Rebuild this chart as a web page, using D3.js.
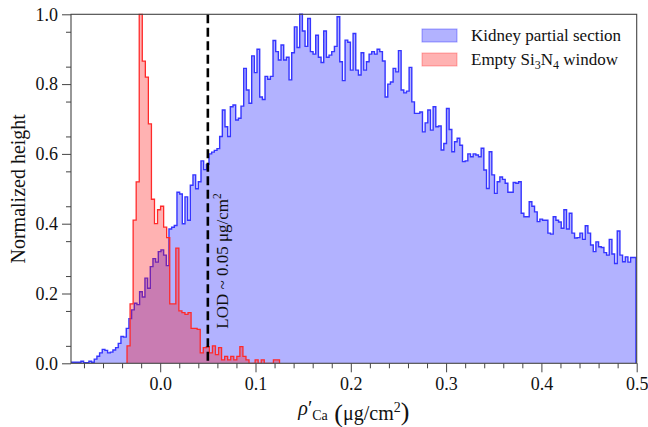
<!DOCTYPE html>
<html><head><meta charset="utf-8">
<script src="https://cdn.jsdelivr.net/npm/d3@7"></script>
<style>
body{margin:0;background:#fff}
svg{display:block}
text{font-family:"Liberation Serif","Times New Roman",serif;fill:#111}
</style>
</head><body>
<svg id="chart" width="648" height="427"></svg>
<script>
// ---- data ----
const kidneyStart = -0.1, kidneyBinWidth = 0.0028;
const kidneyValues = [
0,0,0.003,0.003,0.003,0.003,0.006,0.002,0.002,0.006,
0.003,0.012,0.02,0.03,0.04,0.037,0.03,0.032,0.038,0.045,
0.057,0.077,0.075,0.10,0.128,0.153,0.172,0.168,0.205,0.19,
0.244,0.215,0.277,0.30,0.29,0.32,0.325,0.31,0.28,0.385,
0.39,0.395,0.49,0.485,0.40,0.477,0.41,0.51,0.54,0.50,
0.52,0.58,0.555,0.57,0.60,0.605,0.61,0.615,0.65,0.726,
0.678,0.65,0.735,0.74,0.697,0.702,0.737,
0.845,0.783,0.745,0.881,0.833,0.90,0.763,0.756,0.822,0.814,
0.822,0.925,0.893,0.869,0.912,0.869,0.877,0.812,0.89,0.964,
0.905,1.0,0.952,0.908,0.988,0.893,0.886,0.94,0.877,0.862,
0.952,0.877,0.883,0.893,0.908,0.993,0.864,0.81,0.926,0.92,
0.84,0.945,0.84,0.826,0.89,0.84,0.864,0.886,0.893,0.886,
0.90,0.893,0.866,0.763,0.8,0.806,0.845,0.835,0.896,0.783,
0.775,0.78,0.848,0.749,0.716,0.716,0.72,0.663,0.689,0.726,
0.668,0.735,0.678,
0.68,0.611,0.63,0.73,0.67,0.606,0.635,0.645,0.625,0.578,
0.58,0.60,0.592,0.60,0.597,0.592,0.616,0.554,0.501,0.606,
0.54,0.487,0.52,0.534,0.527,0.516,0.49,0.49,0.518,0.516,
0.52,0.43,0.42,0.42,0.463,0.45,0.434,0.406,0.413,0.41,
0.41,0.373,0.37,0.42,0.41,0.405,0.387,0.44,0.385,0.43,
0.373,0.359,0.36,0.373,0.355,0.394,0.373,0.339,0.32,0.348,
0.334,0.332,0.317,0.31,0.355,0.313,0.286,0.379,0.31,0.291,
0.305,0.29,0.303,0.303
];
const windowStart = -0.0348, windowBinWidth = 0.0032;
const windowValues = [
0.05,0.17,0.41,0.52,1.00,0.866,0.82,0.686,0.47,0.40,
0.44,0.45,0.39,0.36,0.17,0.17,0.33,0.15,0.145,0.14,
0.145,0.10,0.10,0.097,0.03,0.045,0.048,0.03,0.05,0.025,
0.045,0.01,0.02,0.01,0.02,0.01,0.02,0.048,0.02,0.01,
0,0,0.01,0,0.01,0,0,0,0.01,0.01
];
const xTickValues = [0.0,0.1,0.2,0.3,0.4,0.5];
const yTickValues = [0.0,0.2,0.4,0.6,0.8,1.0];
const lodValue = 0.05;
const seriesNames = ["Kidney partial section","Empty Si3N4 window"];

// ---- layout ----
const W = 648, H = 427;
const L = 71, R = 636.7, T = 14.3, B = 363.3;
const serif = '"Liberation Serif","Times New Roman",serif';
const svg = d3.select("#chart");
const x = d3.scaleLinear().domain([-0.0936, 0.5]).range([L, R]);
const y = d3.scaleLinear().domain([0, 1]).range([B, T]);

svg.append("defs").append("clipPath").attr("id","plotclip")
  .append("rect").attr("x",L).attr("y",T-2).attr("width",R-L).attr("height",B-T+2);

function stepPoints(start, w, vals){
  const pts = [[start, 0]];
  vals.forEach((v,i)=>{ pts.push([start+i*w, v]); pts.push([start+(i+1)*w, v]); });
  pts.push([start+vals.length*w, 0]);
  return pts;
}
const line = d3.line().x(d=>x(d[0])).y(d=>y(d[1]));

const g = svg.append("g").attr("clip-path","url(#plotclip)");
const kPts = stepPoints(kidneyStart, kidneyBinWidth, kidneyValues);
g.append("path").attr("d", line(kPts)+"Z").attr("fill","rgba(0,0,255,0.3)").attr("stroke","none");
g.append("path").attr("d", line(kPts)).attr("fill","none").attr("stroke","#3535ff").attr("stroke-width",1.4);
const wPts = stepPoints(windowStart, windowBinWidth, windowValues);
g.append("path").attr("d", line(wPts)+"Z").attr("fill","rgba(255,0,0,0.3)").attr("stroke","none");
g.append("path").attr("d", line(wPts)).attr("fill","none").attr("stroke","#ff2a2a").attr("stroke-width",1.3);

// LOD line
svg.append("line").attr("x1",x(lodValue)).attr("x2",x(lodValue)).attr("y1",T).attr("y2",B)
  .attr("stroke","#000").attr("stroke-width",2.6).attr("stroke-dasharray","9,4.5");
const lodText = svg.append("text")
  .attr("transform",`translate(${x(lodValue)+20},${261}) rotate(-90)`)
  .attr("text-anchor","middle").style("font-size","17px");
lodText.append("tspan").text("LOD ~ 0.05 μg/cm");
lodText.append("tspan").attr("dy",-7).style("font-size","11.5px").text("2");

// axes
const axisColor = "#444";
const [d0, d1] = x.domain();
const xAxis = svg.append("g").attr("transform",`translate(0,${B})`)
  .call(d3.axisBottom(x).tickValues(xTickValues).tickSize(9).tickPadding(4).tickFormat(d3.format(".1f")));
const xMinor = d3.range(-8, 26).map(i=>i*0.02)
  .filter(v=>v>=d0-1e-9 && v<=d1+1e-9 && !xTickValues.some(t=>Math.abs(t-v)<1e-9));
svg.append("g").attr("transform",`translate(0,${B})`)
  .call(d3.axisBottom(x).tickValues(xMinor).tickSize(5).tickFormat(""));
const yAxis = svg.append("g").attr("transform",`translate(${L},0)`)
  .call(d3.axisLeft(y).tickValues(yTickValues).tickSize(9).tickPadding(4).tickFormat(d3.format(".1f")));
const yMinor = d3.range(1, 20, 2).map(i=>i*0.05);
svg.append("g").attr("transform",`translate(${L},0)`)
  .call(d3.axisLeft(y).tickValues(yMinor).tickSize(5).tickFormat(""));
xAxis.attr("font-family", serif).attr("font-size", 18);
yAxis.attr("font-family", serif).attr("font-size", 18);
svg.selectAll(".domain").remove();
svg.selectAll(".tick line").attr("stroke",axisColor).attr("stroke-width",1);
svg.selectAll(".tick text").style("font-size","18px").style("font-family",serif).attr("fill","#111");
xAxis.selectAll(".tick text").attr("dy","0.75em");

// frame
svg.append("rect").attr("x",L).attr("y",T).attr("width",R-L).attr("height",B-T)
  .attr("fill","none").attr("stroke",axisColor).attr("stroke-width",1.1);

// y label
svg.append("text").attr("transform",`translate(25,${(T+B)/2}) rotate(-90)`)
  .attr("text-anchor","middle").style("font-size","20px").text("Normalized height");

// x label
const xl = svg.append("text").attr("x",(L+R)/2).attr("y",415).attr("text-anchor","middle").style("font-size","20px");
xl.append("tspan").style("font-style","italic").text("ρ");
xl.append("tspan").text("′");
xl.append("tspan").attr("dy",5).style("font-size","14px").text("Ca");
xl.append("tspan").attr("dy",2).style("font-size","26px").text(" (");
xl.append("tspan").attr("dy",-2).text("μg/cm");
xl.append("tspan").attr("dy",-8).style("font-size","14px").text("2");
xl.append("tspan").attr("dy",8).style("font-size","26px").text(")");

// legend
const legend = svg.append("g");
const legColors = [["rgba(0,0,255,0.3)","rgba(0,0,255,0.35)"],["rgba(255,0,0,0.3)","rgba(255,0,0,0.3)"]];
[0,1].forEach(i=>{
  legend.append("rect").attr("x",422).attr("y",29+24*i).attr("width",35).attr("height",13)
    .attr("fill",legColors[i][0]).attr("stroke",legColors[i][1]).attr("stroke-width",1);
});
legend.append("text").attr("x",471).attr("y",41).style("font-size","17px").text(seriesNames[0]);
const t2 = legend.append("text").attr("x",471).attr("y",65).style("font-size","17px");
t2.append("tspan").text("Empty Si");
t2.append("tspan").attr("dy",4).style("font-size","12px").text("3");
t2.append("tspan").attr("dy",-4).text("N");
t2.append("tspan").attr("dy",4).style("font-size","12px").text("4");
t2.append("tspan").attr("dy",-4).text(" window");
</script>
</body></html>
